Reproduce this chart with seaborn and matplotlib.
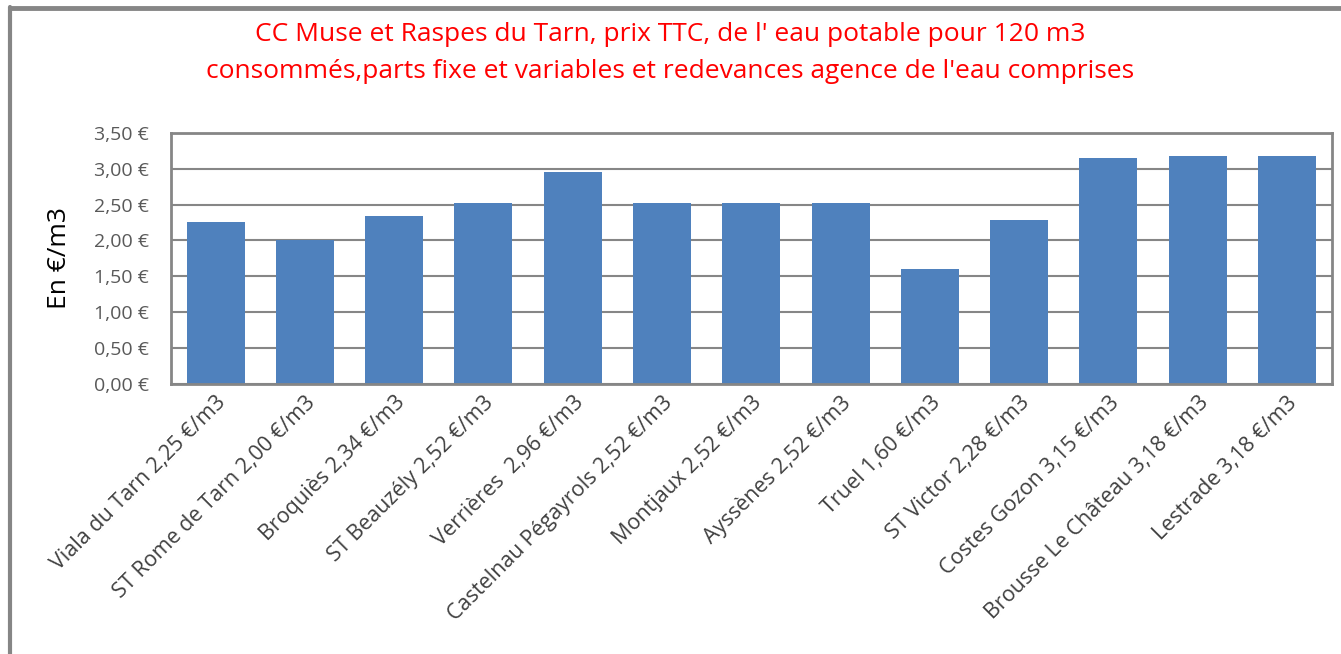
import matplotlib
matplotlib.use("Agg")
import matplotlib.pyplot as plt
import seaborn as sns
import pandas as pd
from matplotlib.lines import Line2D
from matplotlib.ticker import FuncFormatter

# Données
communes = ["Viala du Tarn 2,25 €/m3", "ST Rome de Tarn 2,00 €/m3", "Broquiès 2,34 €/m3",
            "ST Beauzély 2,52 €/m3", "Verrières  2,96 €/m3", "Castelnau Pégayrols 2,52 €/m3",
            "Montjaux 2,52 €/m3", "Ayssènes 2,52 €/m3", "Truel 1,60 €/m3", "ST Victor 2,28 €/m3",
            "Costes Gozon 3,15 €/m3", "Brousse Le Château 3,18 €/m3", "Lestrade 3,18 €/m3"]
prix = [2.25, 2.00, 2.34, 2.52, 2.96, 2.52, 2.52, 2.52, 1.60, 2.28, 3.15, 3.18, 3.18]
yticks = [0, 0.5, 1.0, 1.5, 2.0, 2.5, 3.0, 3.5]

df = pd.DataFrame({"commune": communes, "prix": prix})

sns.set_style("white")
plt.rcParams["font.family"] = ["Open Sans", "DejaVu Sans"]

fig = plt.figure(figsize=(13.41, 6.54), dpi=100)
ax = fig.add_axes([0.1275, 0.413, 0.8655, 0.384])

sns.barplot(data=df, x="commune", y="prix", color="#4f81bd", saturation=1, width=0.65,
            linewidth=0, ax=ax)

ax.set_ylim(0, 3.5)
ax.set_yticks(yticks)
ax.yaxis.set_major_formatter(FuncFormatter(lambda v, p: f"{v:.2f} €".replace(".", ",")))
ax.grid(axis="y", color="#868686", linewidth=1.5)
ax.set_axisbelow(True)
for s in ax.spines.values():
    s.set_color("#868686")
    s.set_linewidth(2)
ax.set_xlim(-0.5, len(communes) - 0.5)

ax.tick_params(axis="y", labelsize=14, colors="#595959", length=0, pad=16)
ax.tick_params(axis="x", labelsize=15.5, colors="#404040", length=0, pad=6)
plt.setp(ax.get_xticklabels(), rotation=45, ha="right", rotation_mode="anchor")
ax.set_xlabel("")
ax.set_ylabel("En €/m3", fontsize=19, color="black")
ax.yaxis.set_label_coords(-0.085, 0.5)

fig.text(0.5, 0.947, "CC Muse et Raspes du Tarn, prix TTC, de l' eau potable pour 120 m3",
         ha="center", va="center", color="red", fontsize=19)
fig.text(0.5, 0.89, "consommés,parts fixe et variables et redevances agence de l'eau comprises",
         ha="center", va="center", color="red", fontsize=19)

# cadre
fig.add_artist(Line2D([0.0075, 1], [0.988, 0.988], color="#868686", lw=3.5, transform=fig.transFigure))
fig.add_artist(Line2D([0.0075, 0.0075], [0, 0.99], color="#868686", lw=3, transform=fig.transFigure))

fig.savefig("out.png", dpi=100)
